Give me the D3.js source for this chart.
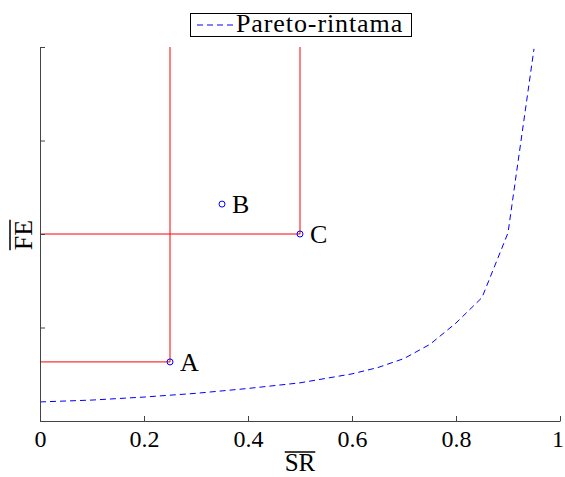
<!DOCTYPE html>
<html><head><meta charset="utf-8">
<script src="https://cdn.jsdelivr.net/npm/d3@7"></script>
<style>body{margin:0;background:#fff}svg{display:block}text{font-family:"Liberation Serif","Times New Roman",serif}</style>
</head><body>
<script>
const paretoX = [0,0.1,0.2,0.3,0.4,0.5,0.6,0.65,0.7,0.75,0.8,0.85,0.9,0.95];
const paretoY = [0.051,0.056,0.064,0.074,0.087,0.102,0.126,0.143,0.167,0.205,0.262,0.33,0.503,0.995];
const pointNames = ["A","B","C"];
const pointX = [0.25,0.35,0.5];
const pointY = [0.158,0.58,0.5];
const guidedPoints = ["A","C"];
const xTicks = [0,0.2,0.4,0.6,0.8,1];
const yTicks = [0,0.25,0.5,0.75,1];
const legendLabel = "Pareto-rintama";
const xLabel = "SR", yLabel = "FE";

const W=565,H=477, FS=26;
const svg=d3.select("body").append("svg").attr("width",W).attr("height",H);
const x=d3.scaleLinear().domain([0,1]).range([40,560]);
const y=d3.scaleLinear().domain([0,1]).range([421,47]);
const axCol="#444";

// red guide lines
pointNames.forEach((n,i)=>{
  if(!guidedPoints.includes(n)) return;
  svg.append("line").attr("x1",x(0)).attr("x2",x(pointX[i])).attr("y1",y(pointY[i])).attr("y2",y(pointY[i]))
    .attr("stroke","#ff0000").attr("stroke-width",1);
  svg.append("line").attr("x1",x(pointX[i])).attr("x2",x(pointX[i])).attr("y1",y(pointY[i])).attr("y2",y(1))
    .attr("stroke","#ff0000").attr("stroke-width",1);
});

// pareto curve
const pts=paretoX.map((v,i)=>[v,paretoY[i]]);
svg.append("path").attr("d",d3.line().x(d=>x(d[0])).y(d=>y(d[1]))(pts))
  .attr("fill","none").attr("stroke","#0000ff").attr("stroke-width",1).attr("stroke-dasharray","6,4");

// points
pointNames.forEach((n,i)=>{
  svg.append("circle").attr("cx",x(pointX[i])).attr("cy",y(pointY[i])).attr("r",3)
    .attr("fill","none").attr("stroke","#0000ff").attr("stroke-width",1);
  svg.append("text").attr("x",x(pointX[i])+10).attr("y",y(pointY[i])+9)
    .attr("font-size",FS).attr("fill","#000").text(n);
});

// axes
const xa=svg.append("g").attr("transform",`translate(0,${y(0)})`)
  .call(d3.axisBottom(x).tickValues(xTicks).tickSizeInner(-5).tickSizeOuter(0).tickPadding(12).tickFormat(d=>d3.format("")(d)));
const ya=svg.append("g").attr("transform",`translate(${x(0)},0)`)
  .call(d3.axisLeft(y).tickValues(yTicks).tickSizeInner(-5).tickSizeOuter(0).tickFormat(""));
[xa,ya].forEach(a=>{
  a.select(".domain").attr("stroke",axCol).attr("stroke-width",1);
  a.selectAll(".tick line").attr("stroke",axCol);
});
xa.selectAll(".tick text").attr("font-size",24).attr("font-family",null).attr("fill","#000").attr("dy",null).attr("y",null)
  .attr("transform",d=>d===1?"translate(-2.5,26)":"translate(0,26)");

// x label with overline
const xl=svg.append("text").attr("x",300).attr("y",471).attr("text-anchor","middle").attr("font-size",25).attr("fill","#000").text(xLabel);
const xw=xl.node().getComputedTextLength();
svg.append("line").attr("x1",300-xw/2).attr("x2",300+xw/2).attr("y1",452).attr("y2",452).attr("stroke","#000").attr("stroke-width",1.5);

// y label with overline
const yg=svg.append("g").attr("transform","translate(32,235) rotate(-90)");
const yl=yg.append("text").attr("x",0).attr("y",0).attr("text-anchor","middle").attr("font-size",FS).attr("fill","#000").text(yLabel);
const yw=yl.node().getComputedTextLength();
yg.append("line").attr("x1",-yw/2).attr("x2",yw/2).attr("y1",-22).attr("y2",-22).attr("stroke","#000").attr("stroke-width",1.5);

// legend
svg.append("rect").attr("x",190.5).attr("y",13.5).attr("width",221).attr("height",23).attr("fill","#fff").attr("stroke","#000").attr("stroke-width",1);
svg.append("line").attr("x1",197).attr("x2",233).attr("y1",25).attr("y2",25).attr("stroke","#0000ff").attr("stroke-width",1).attr("stroke-dasharray","6,4");
svg.append("text").attr("x",236).attr("y",32).attr("font-size",FS).attr("letter-spacing",0.9).attr("fill","#000").text(legendLabel);
</script>
</body></html>
